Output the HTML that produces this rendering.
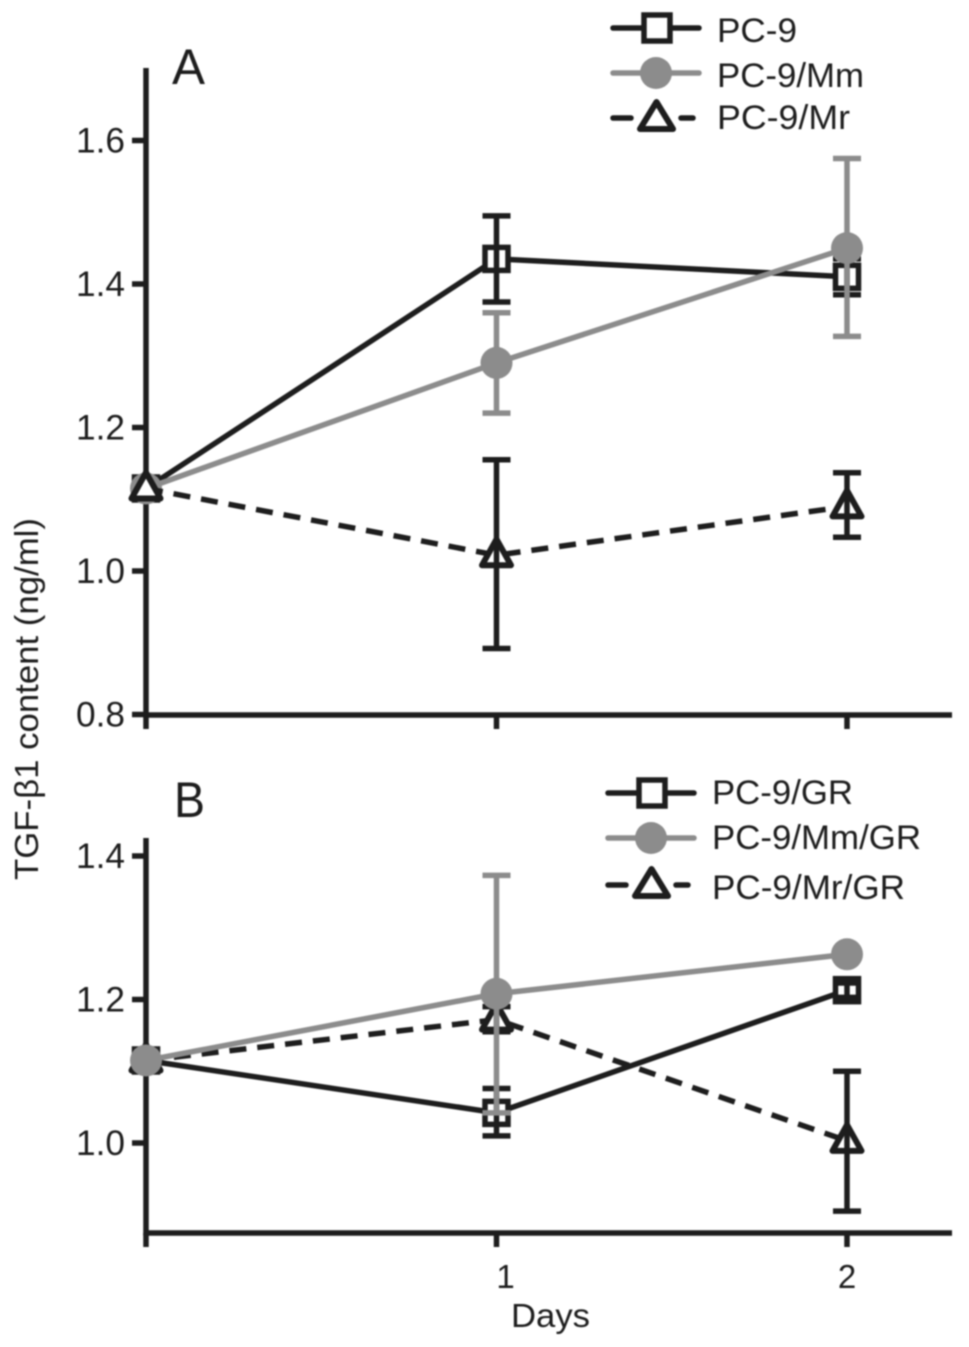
<!DOCTYPE html>
<html>
<head>
<meta charset="utf-8">
<title>TGF-β1 content chart</title>
<style>
html,body{margin:0;padding:0;background:#fff;}
svg{display:block;}
text{font-family:"Liberation Sans",sans-serif;fill:#1d1d1d;}
</style>
</head>
<body>
<svg id="chart" xmlns="http://www.w3.org/2000/svg" width="969" height="1347" viewBox="0 0 969 1347">
  <g id="root" style="filter:blur(0.7px)">
    <g id="panelA"></g>
    <g id="panelB"></g>
    <text x="172" y="84" font-size="50" textLength="33" lengthAdjust="spacingAndGlyphs">A</text>
    <text x="174" y="817" font-size="50" textLength="31" lengthAdjust="spacingAndGlyphs">B</text>
    <text transform="translate(38,880) rotate(-90)" font-size="33" textLength="362" lengthAdjust="spacingAndGlyphs">TGF-β1 content (ng/ml)</text>
    <text x="511" y="1327" font-size="33" textLength="79" lengthAdjust="spacingAndGlyphs">Days</text>

    <g>
      <g>
        <line x1="613" x2="699" y1="28" y2="28" stroke="#1d1d1d" stroke-width="5.5" stroke-linecap="round"/>
        <rect x="644" y="15" width="26" height="26" fill="#fff" stroke="#1d1d1d" stroke-width="5.5"/>
        <text x="717" y="42" font-size="34" textLength="80" lengthAdjust="spacingAndGlyphs">PC-9</text>
      </g>
      <g>
        <line x1="613" x2="699" y1="73" y2="73" stroke="#8c8c8c" stroke-width="5.5" stroke-linecap="round"/>
        <circle cx="656" cy="73" r="16" fill="#8c8c8c"/>
        <text x="717" y="87" font-size="34" textLength="147" lengthAdjust="spacingAndGlyphs">PC-9/Mm</text>
      </g>
      <g>
        <line x1="613" x2="631" y1="118" y2="118" stroke="#1d1d1d" stroke-width="5.5" stroke-linecap="round"/>
        <line x1="681" x2="693" y1="118" y2="118" stroke="#1d1d1d" stroke-width="5.5" stroke-linecap="round"/>
        <polygon points="656.5,102 673,129 640,129" fill="#fff" stroke="#1d1d1d" stroke-width="6" stroke-linejoin="round"/>
        <text x="717" y="129" font-size="34" textLength="133" lengthAdjust="spacingAndGlyphs">PC-9/Mr</text>
      </g>
    </g>

    <g>
      <g>
        <line x1="608" x2="694" y1="793" y2="793" stroke="#1d1d1d" stroke-width="5.5" stroke-linecap="round"/>
        <rect x="639" y="780" width="26" height="26" fill="#fff" stroke="#1d1d1d" stroke-width="5.5"/>
        <text x="712" y="804" font-size="34" textLength="141" lengthAdjust="spacingAndGlyphs">PC-9/GR</text>
      </g>
      <g>
        <line x1="608" x2="694" y1="838" y2="838" stroke="#8c8c8c" stroke-width="5.5" stroke-linecap="round"/>
        <circle cx="651" cy="838" r="16" fill="#8c8c8c"/>
        <text x="712" y="849" font-size="34" textLength="209" lengthAdjust="spacingAndGlyphs">PC-9/Mm/GR</text>
      </g>
      <g>
        <line x1="608" x2="626" y1="885" y2="885" stroke="#1d1d1d" stroke-width="5.5" stroke-linecap="round"/>
        <line x1="676" x2="688" y1="885" y2="885" stroke="#1d1d1d" stroke-width="5.5" stroke-linecap="round"/>
        <polygon points="651.5,869 668,896 635,896" fill="#fff" stroke="#1d1d1d" stroke-width="6" stroke-linejoin="round"/>
        <text x="712" y="899" font-size="34" textLength="193" lengthAdjust="spacingAndGlyphs">PC-9/Mr/GR</text>
      </g>
    </g>
  </g>
</svg>
<script>
var days = [0, 1, 2];
var dayTickLabels = ["", "1", "2"];

var ticksA = [0.8, 1.0, 1.2, 1.4, 1.6];
var tickLabelsA = ["0.8", "1.0", "1.2", "1.4", "1.6"];
var ticksB = [1.0, 1.2, 1.4];
var tickLabelsB = ["1.0", "1.2", "1.4"];

var pc9Values = [1.115, 1.435, 1.41];
var pc9Low = [null, 1.375, 1.385];
var pc9High = [null, 1.495, 1.435];

var pc9MmValues = [1.115, 1.29, 1.45];
var pc9MmLow = [null, 1.22, 1.327];
var pc9MmHigh = [null, 1.36, 1.575];

var pc9MrValues = [1.115, 1.022, 1.09];
var pc9MrLow = [null, 0.892, 1.047];
var pc9MrHigh = [null, 1.155, 1.137];

var pc9GrValues = [1.115, 1.042, 1.213];
var pc9GrLow = [null, 1.01, 1.203];
var pc9GrHigh = [null, 1.076, 1.223];

var pc9MmGrValues = [1.115, 1.208, 1.263];
var pc9MmGrLow = [null, 1.042, 1.263];
var pc9MmGrHigh = [null, 1.373, 1.263];

var pc9MrGrValues = [1.115, 1.172, 1.003];
var pc9MrGrLow = [null, 1.155, 0.905];
var pc9MrGrHigh = [null, 1.19, 1.1];

var NS = "http://www.w3.org/2000/svg";
var DARK = "#1d1d1d";
var GREY = "#8c8c8c";
var STROKE = 5.5;

function xScale(d) { return 146 + d * 350.5; }
function yScaleA(v) { return 571 - (v - 1.0) * 717.5; }
function yScaleB(v) { return 1143 - (v - 1.0) * 717.5; }

function make(tag, parent, attrs) {
  var el = document.createElementNS(NS, tag);
  for (var k in attrs) { el.setAttribute(k, attrs[k]); }
  parent.appendChild(el);
  return el;
}

function drawAxes(parent, yScale, ticks, labels, top, bottom, prefix, showDayLabels) {
  var yAxis = make("line", parent, {x1: 146, x2: 146, y1: top, y2: bottom + 2.5, stroke: DARK, "stroke-width": STROKE});
  
  
  var xAxis = make("line", parent, {x1: 143.5, x2: 952, y1: bottom, y2: bottom, stroke: DARK, "stroke-width": STROKE});
  
  
  ticks.forEach(function (t, i) {
    var y = yScale(t);
    var tick = make("line", parent, {x1: 132, x2: 146, y1: y, y2: y, stroke: DARK, "stroke-width": STROKE});
    
    
    var label = make("text", parent, {x: 76, y: y + 12, "font-size": 35, textLength: 49, lengthAdjust: "spacingAndGlyphs"});
    label.textContent = labels[i];
    
    
  });
  days.forEach(function (d, i) {
    var x = xScale(d);
    var tick = make("line", parent, {x1: x, x2: x, y1: bottom, y2: bottom + 14, stroke: DARK, "stroke-width": STROKE});
    
    
    if (showDayLabels && dayTickLabels[i]) {
      var label = make("text", parent, {x: d === 1 ? x + 9 : x, y: 1288, "font-size": 33, "text-anchor": "middle"});
      label.textContent = dayTickLabels[i];
      
      
    }
  });
}

function drawSeries(parent, yScale, values, low, high, color, dashed, marker, name) {
  var group = make("g", parent, {});
  
  
  var pts = values.map(function (v, i) { return xScale(days[i]) + "," + yScale(v); }).join(" ");
  var lineAttrs = {points: pts, fill: "none", stroke: color, "stroke-width": STROKE, "stroke-linejoin": "round"};
  if (dashed) { lineAttrs["stroke-dasharray"] = "17 11"; }
  var line = make("polyline", group, lineAttrs);
  
  
  values.forEach(function (v, i) {
    var x = xScale(days[i]);
    var y = yScale(v);
    var m;
    if (marker === "square") {
      m = make("rect", group, {x: x - 11.5, y: y - 11.5, width: 23, height: 23, fill: "#fff", stroke: color, "stroke-width": STROKE});
    } else if (marker === "circle") {
      m = make("circle", group, {cx: x, cy: y, r: 16, fill: color});
    } else {
      m = make("polygon", group, {points: x + "," + (y - 16) + " " + (x + 14.5) + "," + (y + 10) + " " + (x - 14.5) + "," + (y + 10), fill: "#fff", stroke: color, "stroke-width": 6, "stroke-linejoin": "round"});
    }
    
    
    if (low[i] === null || low[i] === high[i]) { return; }
    var yl = yScale(low[i]);
    var yh = yScale(high[i]);
    var bar = make("path", group, {d: "M" + x + " " + yl + "V" + yh + "M" + (x - 14) + " " + yl + "H" + (x + 14) + "M" + (x - 14) + " " + yh + "H" + (x + 14), fill: "none", stroke: color, "stroke-width": STROKE});
    
    
  });
}

var panelA = document.getElementById("panelA");
var panelB = document.getElementById("panelB");

drawAxes(panelA, yScaleA, ticksA, tickLabelsA, 68, 715, "panel-a", false);
drawSeries(panelA, yScaleA, pc9Values, pc9Low, pc9High, DARK, false, "square", "pc9");
drawSeries(panelA, yScaleA, pc9MmValues, pc9MmLow, pc9MmHigh, GREY, false, "circle", "pc9-mm");
drawSeries(panelA, yScaleA, pc9MrValues, pc9MrLow, pc9MrHigh, DARK, true, "triangle", "pc9-mr");

drawAxes(panelB, yScaleB, ticksB, tickLabelsB, 838, 1233, "panel-b", true);
drawSeries(panelB, yScaleB, pc9MrGrValues, pc9MrGrLow, pc9MrGrHigh, DARK, true, "triangle", "pc9-mr-gr");
drawSeries(panelB, yScaleB, pc9GrValues, pc9GrLow, pc9GrHigh, DARK, false, "square", "pc9-gr");
drawSeries(panelB, yScaleB, pc9MmGrValues, pc9MmGrLow, pc9MmGrHigh, GREY, false, "circle", "pc9-mm-gr");
</script>
</body>
</html>
